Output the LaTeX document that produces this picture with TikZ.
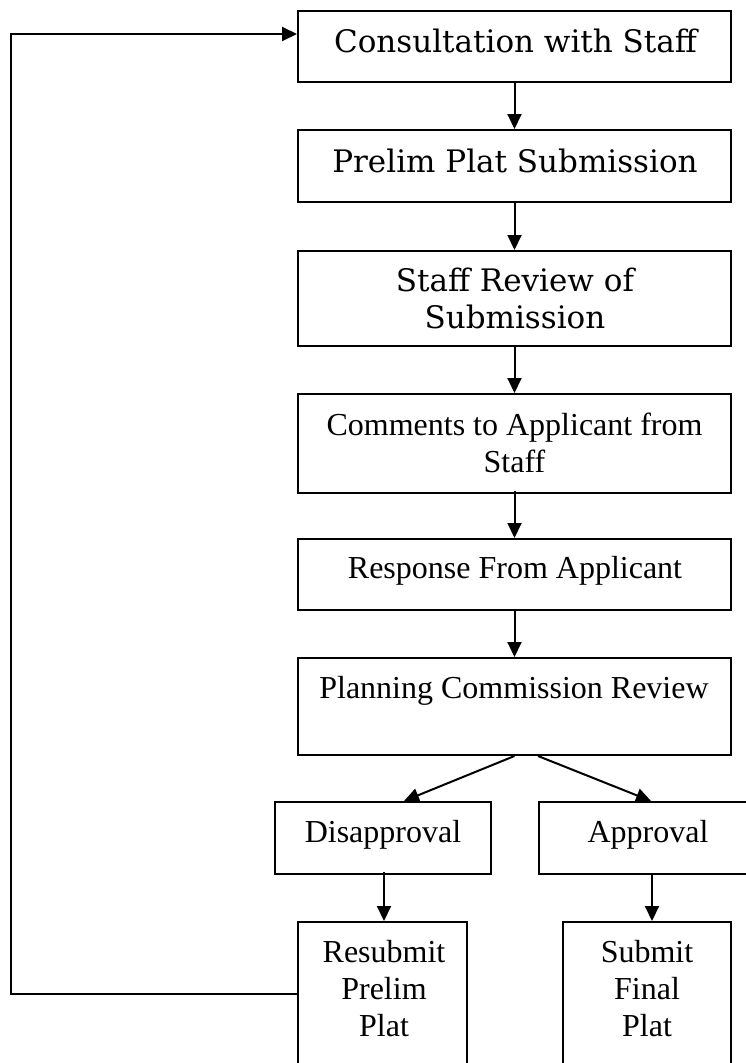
\documentclass[tikz,border=0pt]{standalone}
\usepackage{fontspec}
\setmainfont{Liberation Serif}
\newfontfamily\schfont{DejaVu Serif}
\newfontfamily\tmfont{Liberation Serif}
\usetikzlibrary{arrows.meta}
\tikzset{
  box/.style={draw=black, line width=2pt, rectangle, inner sep=0pt, fill=none},
  sch/.style={inner sep=0pt, font=\schfont\fontsize{31}{37}\selectfont, align=center},
  tms/.style={inner sep=0pt, font=\tmfont\fontsize{32}{37}\selectfont, align=center},
  arr/.style={draw=black, line width=2pt, -{Triangle[length=15pt,width=14pt]}}
}
\begin{document}
\begin{tikzpicture}[x=1pt,y=-1pt]
\useasboundingbox (0,0) rectangle (746,1063);
% boxes
\node[box, minimum width=433pt, minimum height=71pt] (b1) at (514.5,46.5) {};
\node[box, minimum width=433pt, minimum height=72pt] (b2) at (514.5,166) {};
\node[box, minimum width=433pt, minimum height=95pt] (b3) at (514.5,298.5) {};
\node[box, minimum width=433pt, minimum height=99pt] (b4) at (514.5,443.5) {};
\node[box, minimum width=433pt, minimum height=71pt] (b5) at (514.5,574.5) {};
\node[box, minimum width=433pt, minimum height=97pt] (b6) at (514.5,706.5) {};
\node[box, minimum width=216pt, minimum height=72pt] (dis) at (383,838) {};
\node[box, minimum width=213pt, minimum height=72pt] (app) at (645.5,838) {};
\node[box, minimum width=169pt, minimum height=153pt] (res) at (382.5,998.5) {};
\node[box, minimum width=168pt, minimum height=153pt] (sub) at (647,998.5) {};
% texts (anchor=base is the baseline of the last line)
\node[sch, anchor=base] (t1) at (515.5,52) {Consultation with Staff};
\node[sch, anchor=base] (t2) at (515,172) {Prelim Plat Submission};
\node[sch, anchor=base] (t3) at (515,328) {Staff Review of\\Submission};
\node[tms, anchor=base] (t4) at (514.5,472) {Comments to Applicant from\\Staff};
\node[tms, anchor=base] (t5) at (515,578) {Response From Applicant};
\node[tms, anchor=base] (t6) at (514,698) {Planning Commission Review};
\node[tms, anchor=base] (t7) at (383,842) {Disapproval};
\node[tms, anchor=base] (t8) at (648,842) {Approval};
\node[tms, anchor=base] (t9) at (384,1036) {Resubmit\\Prelim\\Plat};
\node[tms, anchor=base] (t10) at (647,1036) {Submit\\Final\\Plat};
% connectors
\draw[arr] (b1.south) -- (b2.north);
\draw[arr] (b2.south) -- (b3.north);
\draw[arr] (b3.south) -- (b4.north);
\draw[arr] ([yshift=3pt]b4.south) -- (b5.north);
\draw[arr] (b5.south) -- (b6.north);
\draw[arr] (b6.south) -- ([xshift=21pt]dis.north);
\draw[arr] ([xshift=23.5pt]b6.south) -- ([xshift=5.5pt]app.north);
\draw[arr] ([xshift=1pt,yshift=3pt]dis.south) -- ([xshift=1.5pt]res.north);
\draw[arr] ([xshift=6.5pt]app.south) -- ([xshift=5pt]sub.north);
\coordinate (c1) at (10.5,994);
\draw[arr] ([yshift=4.5pt]res.west) -- (c1) |- ([yshift=12.5pt]b1.west);
\end{tikzpicture}
\end{document}
